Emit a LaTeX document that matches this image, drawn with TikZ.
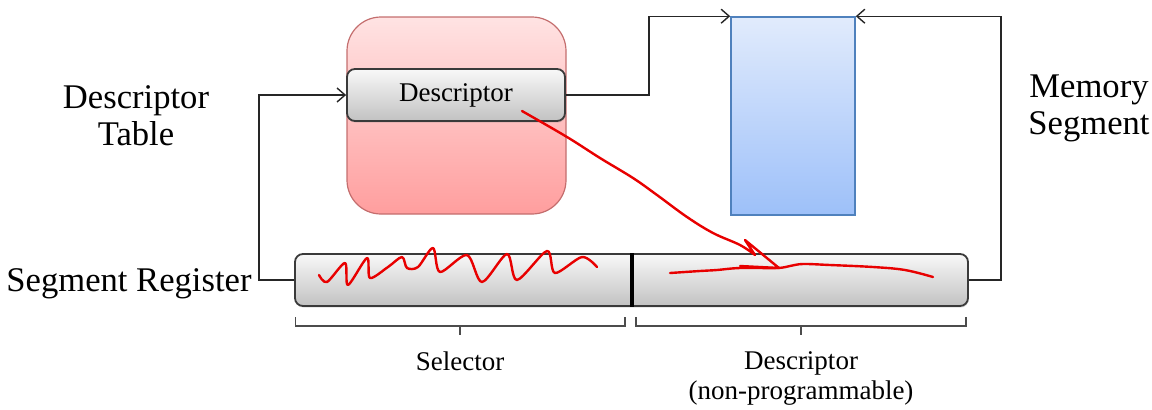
\documentclass[tikz,border=0pt]{standalone}
\usepackage{fontspec}
\setmainfont{Liberation Serif}
\usepackage{tikz}
\usetikzlibrary{positioning, arrows.meta, calc, shadows}
\usepackage{xcolor}
\definecolor{TableTop}{HTML}{FFE3E3}
\definecolor{TableBot}{HTML}{FF9E9E}
\definecolor{TableLine}{HTML}{C46E6E}
\definecolor{MemTop}{HTML}{E1EBFC}
\definecolor{MemBot}{HTML}{9DC0F9}
\definecolor{MemLine}{HTML}{4F81BD}
\definecolor{RegTop}{HTML}{F8F8F8}
\definecolor{RegBot}{HTML}{C2C2C2}
\definecolor{RegLine}{HTML}{3A3A3A}
\definecolor{Ink}{HTML}{E80000}

\begin{document}
\begin{tikzpicture}[
    x=0.5pt, y=-0.5pt,
    reg/.style={draw=RegLine, line width=0.9pt, top color=RegTop, bottom color=RegBot, rounded corners=4pt, inner sep=0pt,
        drop shadow={shadow xshift=0.4pt, shadow yshift=-0.8pt, opacity=0.25}},
    conn/.style={-{Straight Barb[length=4pt, width=7pt]}, line width=0.7pt, black!85},
    brk/.style={line width=0.6pt, black!70},
    ink/.style={Ink, line width=1.2pt, line cap=round, line join=round},
    big/.style={font=\fontsize{17.3}{18.5}\selectfont, align=center},
    small/.style={font=\fontsize{13.5}{15}\selectfont, align=center}
]
\useasboundingbox (0,0) rectangle (1152,409);

% Descriptor table
\node[draw=TableLine, line width=0.6pt, top color=TableTop, bottom color=TableBot, rounded corners=17pt,
      minimum width=109.5pt, minimum height=98.5pt, inner sep=0pt] (table) at (456.5,115.5) {};
\node[reg, minimum width=109pt, minimum height=26pt, font=\fontsize{13.5}{15}\selectfont] (desc) at (456,95) {Descriptor};

% Memory segment
\node[draw=MemLine, line width=0.8pt, top color=MemTop, bottom color=MemBot,
      minimum width=62pt, minimum height=99pt, inner sep=0pt] (mem) at (793,116) {};

% Segment register
\node[reg, minimum width=336.5pt, minimum height=26pt] (segreg) at (631.5,280) {};
\draw[line width=2pt] (segreg.north) -- (segreg.south);

% Labels
\node[big] (tablelbl) at (136,116) {Descriptor\\Table};
\node[big] (reglbl) at (129,284) {Segment Register};
\node[big] (memlbl) at (1089,108) {Memory\\Segment};

% Brackets
\draw[brk] (295.5,317) |- (460,326) -| (625,317) (460,326) -- (460,335);
\draw[brk] (636,317) |- (801,326) -| (966,317) (801,326) -- (801,335);
\coordinate (selmid) at (460,335);
\coordinate (dscmid) at (801,335);
\node[small, below=5pt of selmid] (sellbl) {Selector};
\node[small, below=5pt of dscmid] (dsclbl) {Descriptor\\(non-programmable)};

% Arrows
\draw[conn] (segreg.west) -- ++(-35,0) |- (desc.west);
\draw[conn] (desc.east) -- ++(83,0) |- (mem.north west);
\draw[conn] (segreg.east) -- ++(32,0) |- (mem.north east);

% Red ink
\draw[ink] plot[smooth, tension=0.5] coordinates {(319,275) (327,282) (345,263) (348,285) (367,258) (370,278) (388,267)
    (402,257) (407,268) (418,267) (433,248) (440,272) (467,255) (482,282) (507,254) (517,280) (547,251) (555,273)
    (582,257) (597,267)};
\draw[ink] plot[smooth, tension=0.6] coordinates {(522,111) (567,137) (600,158) (633,178) (657,195) (687,217)
    (713,233) (740,245) (755,255)} -- (745,240) -- (779,268) -- (740,266);
\draw[ink] plot[smooth, tension=0.6] coordinates {(670,273) (700,271) (717,270) (740,268) (777,268) (790,266)
    (803,264) (830,265) (873,267) (905,270) (933,277)};

\end{tikzpicture}
\end{document}
